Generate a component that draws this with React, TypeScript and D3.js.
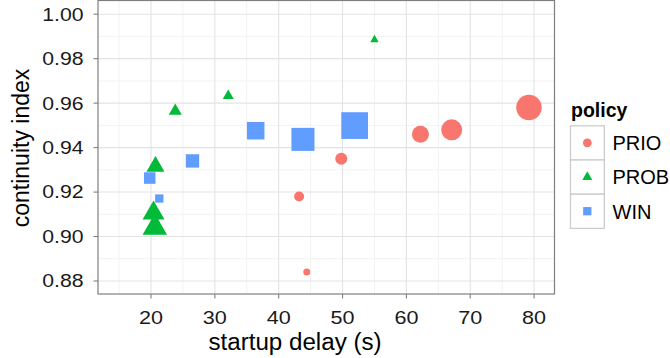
import React from "react";
import * as d3 from "d3";

const xTicks = [20, 30, 40, 50, 60, 70, 80];
const yTicks = [0.88, 0.9, 0.92, 0.94, 0.96, 0.98, 1.0];
const xMinor = [15, 25, 35, 45, 55, 65, 75];
const yMinor = [0.89, 0.91, 0.93, 0.95, 0.97, 0.99];

const policies = ["PRIO", "PROB", "WIN"];

const prioDelay = [44.4, 43.2, 49.8, 62.2, 67.1, 79.2];
const prioIndex = [0.884, 0.918, 0.935, 0.946, 0.948, 0.958];
const prioWeight = [7, 10, 12, 17, 21, 25.5];

const probDelay = [55.0, 32.1, 23.8, 20.7, 20.4, 20.6];
const probIndex = [0.9885, 0.9633, 0.9565, 0.9315, 0.9105, 0.904];
const probWeight = [8.5, 11, 13, 18, 22, 24.5];

const winDelay = [19.8, 21.3, 26.5, 36.4, 43.8, 51.9];
const winIndex = [0.9263, 0.9171, 0.934, 0.9476, 0.9437, 0.9499];
const winWeight = [12.5, 9, 14.5, 19, 25, 29];

const colors = ["#F8766D", "#00BA38", "#619CFF"];

const W = 670, H = 358;
const left = 98, right = 554.5, top = 0.5, bottom = 294;

export default function App() {
  const x = d3.scaleLinear().domain([11.7, 83.2]).range([left, right]);
  const y = d3.scaleLinear().domain([0.87416, 1.00615]).range([bottom, top]);
  const sz = d3.scaleLinear().domain([0, 30]).range([0, 30]);

  const series = [
    { delay: prioDelay, index: prioIndex, weight: prioWeight },
    { delay: probDelay, index: probIndex, weight: probWeight },
    { delay: winDelay, index: winIndex, weight: winWeight },
  ];

  const symbolPath = (k: number, d: number) => {
    if (k === 0) return d3.symbol(d3.symbolCircle, Math.PI * (d / 2) * (d / 2))();
    if (k === 1) return d3.symbol(d3.symbolTriangle, (Math.sqrt(3) / 4) * d * d)();
    return d3.symbol(d3.symbolSquare, d * d * 0.85)();
  };

  const font = "Liberation Sans, Arial, sans-serif";

  return (
    <svg width={W} height={H} style={{ position: "absolute", left: 0, top: 0, fontFamily: font }}>
      <rect x={0} y={0} width={W} height={H} fill="white" />
      <rect x={left} y={top} width={right - left} height={bottom - top} fill="white" />
      {xMinor.map((v) => (
        <line key={"xm" + v} x1={x(v)} x2={x(v)} y1={top} y2={bottom} stroke="#F2F2F2" strokeWidth={1} />
      ))}
      {yMinor.map((v) => (
        <line key={"ym" + v} x1={left} x2={right} y1={y(v)} y2={y(v)} stroke="#F2F2F2" strokeWidth={1} />
      ))}
      {xTicks.map((v) => (
        <line key={"xg" + v} x1={x(v)} x2={x(v)} y1={top} y2={bottom} stroke="#E3E3E3" strokeWidth={1.1} />
      ))}
      {yTicks.map((v) => (
        <line key={"yg" + v} x1={left} x2={right} y1={y(v)} y2={y(v)} stroke="#E3E3E3" strokeWidth={1.1} />
      ))}
      {series.map((s, k) =>
        s.delay.map((dv, i) => (
          <path
            key={k + "-" + i}
            d={symbolPath(k, sz(s.weight[i])) || ""}
            transform={`translate(${x(dv)},${y(s.index[i])})`}
            fill={colors[k]}
          />
        ))
      )}
      <rect x={left} y={top} width={right - left} height={bottom - top} fill="none" stroke="#7F7F7F" strokeWidth={1.2} />
      {xTicks.map((v) => (
        <g key={"xt" + v}>
          <line x1={x(v)} x2={x(v)} y1={bottom} y2={bottom + 4.5} stroke="#7F7F7F" strokeWidth={1.1} />
          <g transform={`translate(${x(v)},${323.5}) scale(1.2,1)`}>
            <text x={0} y={0} textAnchor="middle" fontSize={18} fill="#1A1A1A">
              {v}
            </text>
          </g>
        </g>
      ))}
      {yTicks.map((v) => (
        <g key={"yt" + v}>
          <line x1={left - 4.5} x2={left} y1={y(v)} y2={y(v)} stroke="#7F7F7F" strokeWidth={1.1} />
          <g transform={`translate(${83.5},${y(v) + 6.4}) scale(1.18,1)`}>
            <text x={0} y={0} textAnchor="end" fontSize={18} fill="#1A1A1A">
              {d3.format(".2f")(v)}
            </text>
          </g>
        </g>
      ))}
      <g transform={`translate(295,350) scale(1.05,1)`}>
        <text x={0} y={0} textAnchor="middle" fontSize={23} fill="#000">
          startup delay (s)
        </text>
      </g>
      <text transform={`translate(28.5,148) rotate(-90)`} textAnchor="middle" fontSize={23} fill="#000">
        continuity index
      </text>
      <text x={571} y={116.5} fontSize={19.5} fontWeight="bold" fill="#000">
        policy
      </text>
      {policies.map((p, k) => {
        const ky = 125.8 + k * 34.2;
        return (
          <g key={p}>
            <rect x={570.5} y={ky} width={33.8} height={34.2} fill="white" stroke="#CCCCCC" strokeWidth={1.3} />
            <path d={symbolPath(k, k === 0 ? 8.7 : k === 1 ? 10 : 9) || ""} transform={`translate(587.3,${ky + 17})`} fill={colors[k]} />
            <text x={612.5} y={ky + 24.3} fontSize={20} fill="#000">
              {p}
            </text>
          </g>
        );
      })}
    </svg>
  );
}
